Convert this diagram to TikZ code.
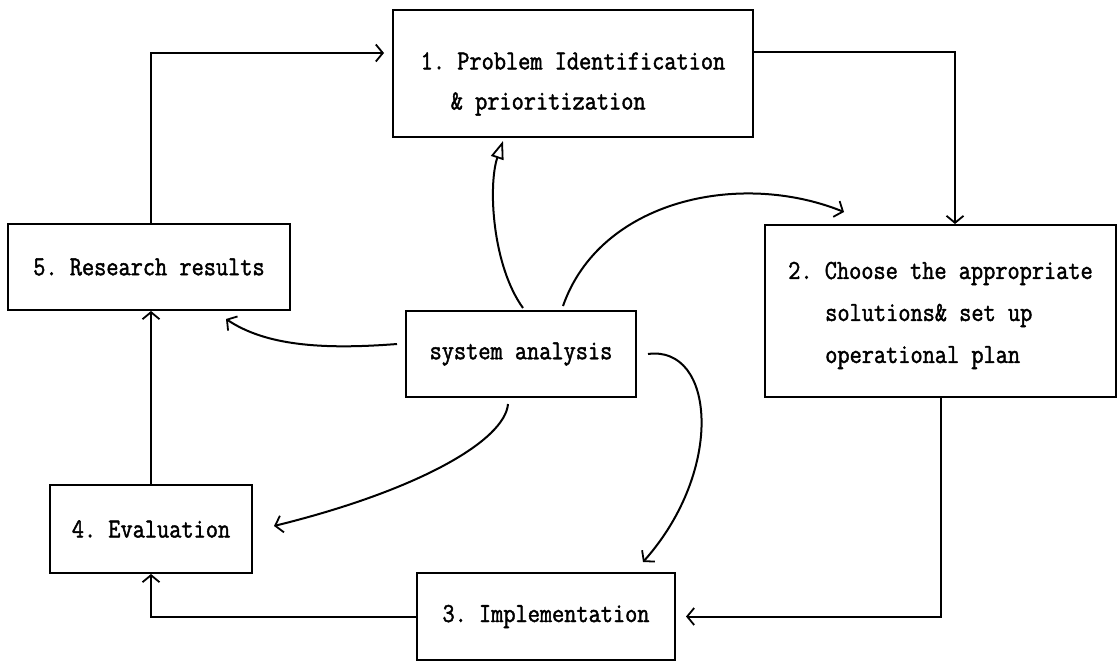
\documentclass[tikz,border=0pt]{standalone}
\usepackage{fontspec}
\setmonofont{Latin Modern Mono}[FakeStretch=0.86,FakeBold=1.6]
\usetikzlibrary{arrows.meta,calc}
\begin{document}
\begin{tikzpicture}[x=1pt,y=-1pt,
  box/.style={draw,line width=2pt,inner sep=0pt,align=left,
    font=\ttfamily\fontsize{27.5}{42}\selectfont},
  conn/.style={line width=2pt},
  barb/.style={conn,-{Straight Barb[length=7pt,width=17pt,line width=1.8pt]}},
  openarr/.style={conn,-{Triangle[open,length=18pt,width=13pt,line width=1.8pt]}}]
\useasboundingbox (0,0) rectangle (1118,664);
\fill[white] (0,0) rectangle (1118,664);

\node[box,minimum width=360pt,minimum height=127pt] (b1) at (573,73.5)
  {\rule{0pt}{38pt}1. Problem Identification\\[-2pt]\hspace*{30pt}\& prioritization};
\node[box,minimum width=351pt,minimum height=172pt] (b2) at (940.5,311)
  {\rule{0pt}{26pt}2. Choose the appropriate\\\hspace*{37pt}solutions\& set up\\\hspace*{37pt}operational plan};
\node[box,minimum width=282pt,minimum height=86pt] (b5) at (149,267)
  {5. Research results};
\node[box,minimum width=230pt,minimum height=86pt] (sys) at (521,354)
  {system analysis};
\node[box,minimum width=202pt,minimum height=88pt] (b4) at (151,529)
  {4. Evaluation};
\node[box,minimum width=258pt,minimum height=87pt] (b3) at (546,616.5)
  {3. Implementation};

% cycle connectors
\draw[barb] ([yshift=21.5pt]b1.east) -| ([xshift=14.5pt]b2.north);
\draw[barb,shorten >=10pt] (b2.south) |- (b3.east);
\draw[barb] (b3.west) -| (b4.south);
\draw[barb] (b4.north) -- (b4.north |- b5.south);
\draw[barb,shorten >=8pt] ([xshift=2pt]b5.north) |- ([yshift=20.5pt]b1.west);

% system analysis connectors
\draw[openarr] ([xshift=2pt,yshift=2pt]sys.north)
  .. controls (492,265) and (488,185) .. ([xshift=-70pt,yshift=-3pt]b1.south);
\draw[barb] ([xshift=42pt,yshift=4pt]sys.north)
  .. controls (600,200) and (740,170) .. ([xshift=80pt,yshift=12pt]b2.north west);
\draw[barb] ([xshift=-8pt,yshift=10pt]sys.west)
  .. controls (320,350) and (265,345) .. ([xshift=-65pt,yshift=-8pt]b5.south east);
\draw[barb] ([xshift=-13pt,yshift=-6pt]sys.south)
  .. controls (505,440) and (420,490) .. ([xshift=21pt,yshift=3pt]b4.east);
\draw[barb] ([xshift=11pt]sys.east)
  .. controls (715,345) and (725,470) .. ([xshift=97pt,yshift=10pt]b3.north);
\end{tikzpicture}
\end{document}
